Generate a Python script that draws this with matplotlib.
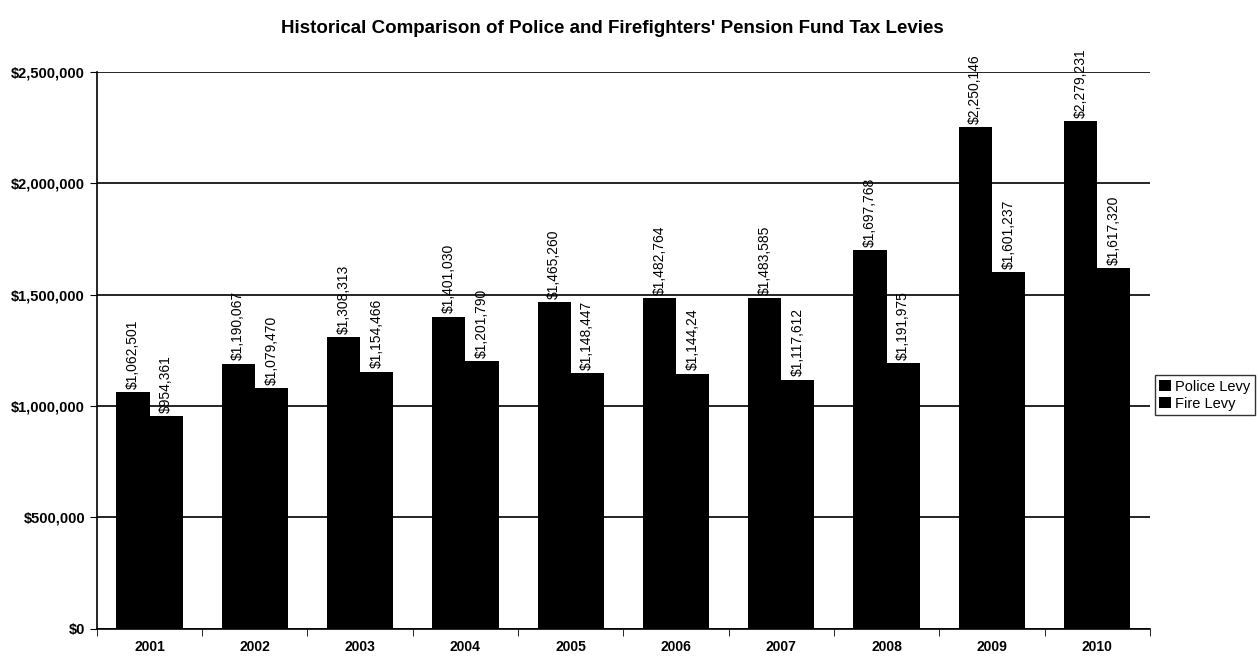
import matplotlib
matplotlib.use("Agg")
import matplotlib.pyplot as plt
import numpy as np
from matplotlib.ticker import FuncFormatter, MultipleLocator, FixedLocator

plt.rcParams['font.family'] = ['Liberation Sans', 'DejaVu Sans']

years = ['2001', '2002', '2003', '2004', '2005', '2006', '2007', '2008', '2009', '2010']
police = [1062501, 1190067, 1308313, 1401030, 1465260, 1482764, 1483585, 1697768, 2250146, 2279231]
fire = [954361, 1079470, 1154466, 1201790, 1148447, 1144240, 1117612, 1191975, 1601237, 1617320]
police_labels = ['$1,062,501', '$1,190,067', '$1,308,313', '$1,401,030', '$1,465,260',
                 '$1,482,764', '$1,483,585', '$1,697,768', '$2,250,146', '$2,279,231']
fire_labels = ['$954,361', '$1,079,470', '$1,154,466', '$1,201,790', '$1,148,447',
               '$1,144,24', '$1,117,612', '$1,191,975', '$1,601,237', '$1,617,320']

fig = plt.figure(figsize=(12.58, 6.64), dpi=100)
ax = fig.add_axes([0.077, 0.053, 0.837, 0.839])

x = np.arange(len(years))
w = 0.315
bp = ax.bar(x - w / 2, police, w, color='black', label='Police Levy', zorder=3)
bf = ax.bar(x + w / 2, fire, w, color='black', label='Fire Levy', zorder=3)

for xi, v, t in zip(x, police, police_labels):
    ax.text(xi - w / 2, v + 15000, t, rotation=90, ha='center', va='bottom', fontsize=10)
for xi, v, t in zip(x, fire, fire_labels):
    ax.text(xi + w / 2, v + 15000, t, rotation=90, ha='center', va='bottom', fontsize=10)

ax.set_ylim(0, 2500000)
ax.set_xlim(-0.5, len(years) - 0.5)
ax.yaxis.set_major_locator(MultipleLocator(500000))
ax.yaxis.set_major_formatter(FuncFormatter(lambda v, p: '${:,.0f}'.format(v)))
ax.grid(axis='y', color='black', linewidth=1.2, zorder=0)

ax.set_xticks(x)
ax.set_xticklabels(years, fontsize=10, fontweight='bold')
ax.tick_params(axis='x', which='major', length=0, pad=8)
ax.xaxis.set_minor_locator(FixedLocator(np.arange(-0.5, len(years), 1.0)))
ax.tick_params(axis='x', which='minor', length=5, direction='out')
ax.tick_params(axis='y', labelsize=10.5, length=5, direction='out')
for lbl in ax.get_yticklabels():
    lbl.set_fontweight('bold')

for s in ['top', 'right']:
    ax.spines[s].set_visible(False)
ax.spines['left'].set_linewidth(1.2)
ax.spines['bottom'].set_linewidth(1.2)

fig.suptitle("Historical Comparison of Police and Firefighters' Pension Fund Tax Levies",
             x=0.487, y=0.97, fontsize=13.5, fontweight='bold')

leg = fig.legend(handles=[bp, bf], loc='center left', bbox_to_anchor=(0.918, 0.405),
                 fontsize=10.5, frameon=True, fancybox=False, edgecolor='black',
                 handlelength=0.8, handleheight=0.8, handletextpad=0.3,
                 borderpad=0.3, labelspacing=0.2, borderaxespad=0)
leg.get_frame().set_linewidth(1.0)

fig.savefig('out.png', dpi=100)
